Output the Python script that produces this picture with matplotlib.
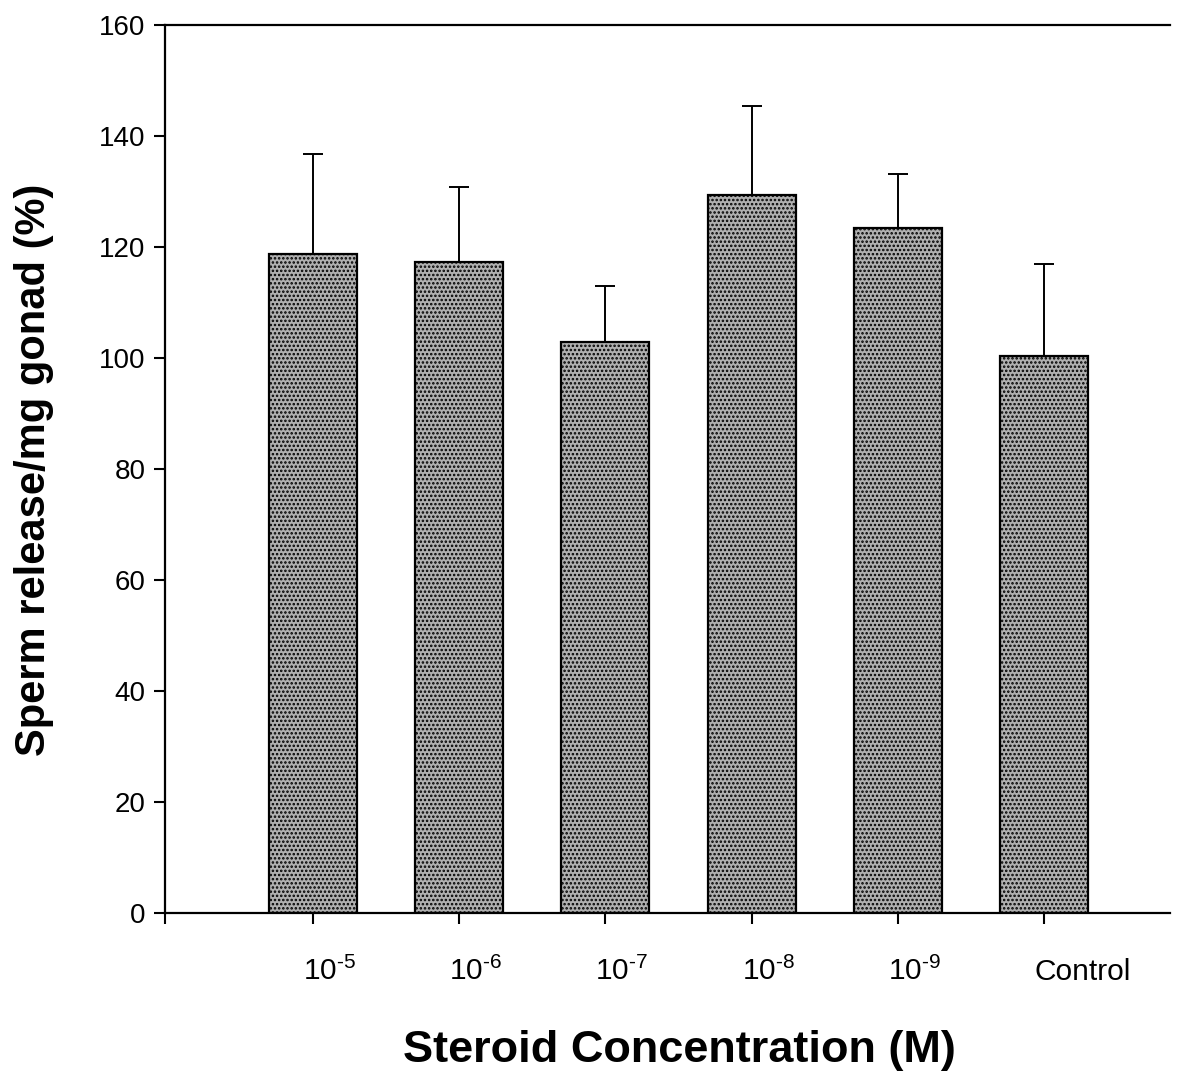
import matplotlib
matplotlib.use("Agg")
import matplotlib.pyplot as plt
import numpy as np
import matplotlib.transforms as mtransforms

plt.rcParams['font.family'] = ['Liberation Sans', 'DejaVu Sans']
plt.rcParams['mathtext.fontset'] = 'custom'
plt.rcParams['mathtext.rm'] = 'Liberation Sans'
plt.rcParams['mathtext.it'] = 'Liberation Sans'
plt.rcParams['mathtext.bf'] = 'Liberation Sans:bold'
plt.rcParams['hatch.color'] = '#2a2a2a'
plt.rcParams['hatch.linewidth'] = 1.2

categories = [r'$\mathregular{10^{\text{-}5}}$', r'$\mathregular{10^{\text{-}6}}$',
              r'$\mathregular{10^{\text{-}7}}$', r'$\mathregular{10^{\text{-}8}}$',
              r'$\mathregular{10^{\text{-}9}}$', 'Control']
values = [118.7, 117.3, 102.9, 129.4, 123.4, 100.4]
errors = [18.1, 13.5, 10.1, 16.0, 9.8, 16.5]
yticks = [0, 20, 40, 60, 80, 100, 120, 140, 160]

fig = plt.figure(figsize=(11.82, 10.71), dpi=100)
ax = fig.add_axes([165/1182, 1-913/1071, (1170-165)/1182, (913-25)/1071])

x = np.arange(len(categories))
ax.bar(x, values, width=0.6, color='#b0b0b0', edgecolor='black', linewidth=1.6,
       hatch='....', zorder=2)
ax.errorbar(x, values, yerr=[np.zeros(len(errors)), errors], fmt='none',
            ecolor='black', elinewidth=1.4, capsize=7.5, capthick=1.4, zorder=3)

ax.set_ylim(0, 160)
ax.set_xlim(-1.01, 5.86)
ax.set_yticks(yticks)
ax.set_yticklabels([str(v) for v in yticks], fontsize=20)
ax.set_xticks(list(x) + [-1.01])
ax.set_xticklabels([''] * (len(categories) + 1))

offset = mtransforms.ScaledTranslation(-10/100, -67/100, fig.dpi_scale_trans)
trans = mtransforms.blended_transform_factory(ax.transData, ax.transAxes) + offset
for xi, lab in zip(x, categories):
    ax.text(xi, 0, lab, transform=trans, ha='left', va='baseline', fontsize=21.5)

ax.tick_params(axis='y', direction='out', length=8, width=1.5, pad=6)
ax.tick_params(axis='x', direction='out', length=8, width=1.5)

ax.spines['right'].set_visible(False)
for s in ['left', 'bottom', 'top']:
    ax.spines[s].set_linewidth(1.6)

fig.text(34/1182, 1-470/1071, 'Sperm release/mg gonad (%)', fontsize=30,
         fontweight='bold', ha='center', va='center', rotation=90)
fig.text(679/1182, 1-1062/1071, 'Steroid Concentration (M)', fontsize=32.5,
         fontweight='bold', ha='center', va='baseline')

fig.savefig('out.png', dpi=100)
